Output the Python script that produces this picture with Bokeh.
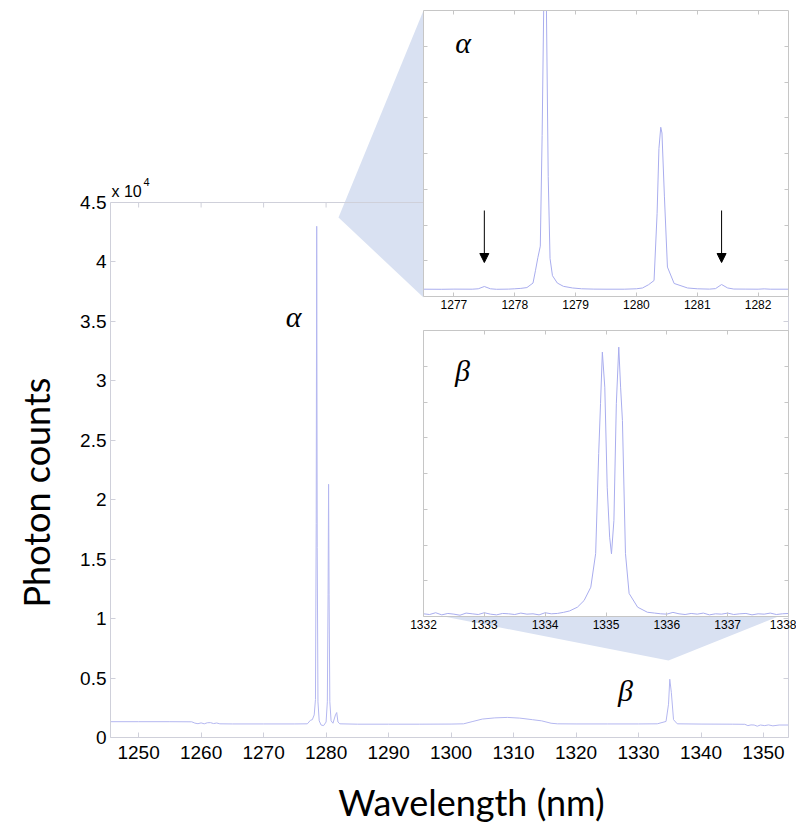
from bokeh.plotting import figure
from bokeh.layouts import column
from bokeh.models import (Range1d, LinearAxis, FixedTicker, CustomJSTickFormatter,
                          Span, Label, Arrow, NormalHead, ColumnDataSource)
from bokeh.embed import file_html
from bokeh.resources import INLINE
import math

# ---------------- data ----------------
# full spectrum (nm, photon counts)
main_wl = [1245.5, 1250.0, 1255.0, 1258.5, 1259.0, 1259.5, 1260.0, 1260.5, 1261.0, 1261.5,
           1262.0, 1262.5, 1263.0, 1265.0, 1270.0, 1275.0, 1277.0, 1277.5, 1277.8, 1278.1,
           1278.3, 1278.42, 1278.5, 1278.58, 1278.7, 1278.9, 1279.2, 1279.6, 1280.0, 1280.2,
           1280.32, 1280.4, 1280.48, 1280.6, 1280.8, 1281.1, 1281.5, 1281.7, 1281.9, 1282.2,
           1285.0, 1290.0, 1295.0, 1300.0, 1302.0, 1303.5, 1305.0, 1307.0, 1309.0, 1311.0,
           1313.0, 1314.5, 1316.0, 1317.0, 1320.0, 1325.0, 1330.0, 1333.0, 1334.4, 1334.8,
           1335.0, 1335.25, 1335.6, 1336.2, 1340.0, 1345.0, 1347.0, 1347.5, 1348.0, 1348.5,
           1349.0, 1349.5, 1350.2, 1350.8, 1351.5, 1352.5, 1354.0]
main_counts = [1330, 1330, 1330, 1320, 1210, 1160, 1230, 1150, 1240, 1250,
               1170, 1220, 1150, 1140, 1140, 1140, 1150, 1450, 1500, 1900,
               3200, 18000, 43000, 16000, 3000, 1400, 1050, 1000, 1300, 3000,
               12000, 21300, 12000, 3000, 1400, 1200, 1900, 2100, 1300, 1150,
               1120, 1120, 1120, 1130, 1150, 1350, 1550, 1650, 1690, 1630,
               1500, 1400, 1200, 1150, 1140, 1140, 1140, 1150, 1350, 2800,
               4900, 3800, 1500, 1150, 1130, 1120, 1110, 1000, 1060, 1050,
               950, 1050, 1000, 1060, 980, 1050, 1050]

# alpha inset (1276.5 - 1282.5 nm)
alpha_wl = [1276.5, 1276.8, 1277.0, 1277.3, 1277.4, 1277.5, 1277.6, 1277.7, 1277.9, 1278.0,
            1278.1, 1278.2, 1278.3, 1278.34, 1278.38, 1278.42, 1278.45, 1278.48, 1278.5, 1278.52,
            1278.55, 1278.58, 1278.62, 1278.7, 1278.8, 1278.95, 1279.1, 1279.3, 1279.5, 1279.8,
            1280.0, 1280.1, 1280.2, 1280.29, 1280.34, 1280.37, 1280.4, 1280.42, 1280.46, 1280.51,
            1280.62, 1280.84, 1281.0, 1281.2, 1281.3, 1281.4, 1281.5, 1281.6, 1281.8, 1282.0,
            1282.1, 1282.2, 1282.5]
alpha_counts = [1250, 1240, 1260, 1250, 1300, 1580, 1300, 1240, 1260, 1300,
                1350, 1450, 2000, 3500, 5100, 6500, 20000, 38000, 43000, 36000,
                15000, 5000, 2900, 2000, 1600, 1400, 1300, 1260, 1250, 1250,
                1300, 1400, 1800, 2310, 10500, 18400, 21000, 20300, 12600, 3950,
                1950, 1400, 1300, 1260, 1320, 1820, 1400, 1270, 1260, 1250,
                1290, 1250, 1250]

# beta inset (1332 - 1338 nm)
beta_wl = [1332.0, 1332.1, 1332.2, 1332.3, 1332.4, 1332.5, 1332.6, 1332.7, 1332.8, 1332.9,
           1333.0, 1333.1, 1333.2, 1333.3, 1333.4, 1333.5, 1333.6, 1333.7, 1333.8, 1333.9,
           1334.0, 1334.1, 1334.2, 1334.3, 1334.4,
           1334.53, 1334.64, 1334.75, 1334.83, 1334.88, 1334.91, 1334.94, 1334.98, 1335.02, 1335.06,
           1335.09, 1335.13, 1335.17, 1335.21, 1335.24, 1335.27, 1335.32, 1335.38, 1335.52, 1335.68,
           1335.8, 1335.9, 1336.0, 1336.1, 1336.2, 1336.3, 1336.4, 1336.5, 1336.6, 1336.7,
           1336.8, 1336.9, 1337.0, 1337.1, 1337.2, 1337.3, 1337.4, 1337.5, 1337.6, 1337.7,
           1337.8, 1337.9, 1338.0]
beta_counts = [1150, 1140, 1165, 1135, 1155, 1145, 1130, 1160, 1150, 1140,
               1165, 1145, 1135, 1155, 1150, 1140, 1160, 1145, 1150, 1135,
               1165, 1150, 1155, 1170, 1190,
               1243, 1337, 1524, 1998, 3405, 4105, 4831, 4338, 2931, 2228,
               1994, 2463, 4105, 4901, 4338, 3870, 2000, 1436, 1243, 1172,
               1160, 1150, 1145, 1170, 1150, 1140, 1155, 1145, 1160, 1135,
               1150, 1145, 1160, 1140, 1150, 1155, 1135, 1150, 1145, 1160,
               1140, 1150, 1155]

main_xticks = [1250, 1260, 1270, 1280, 1290, 1300, 1310, 1320, 1330, 1340, 1350]
main_yticks = [0, 5000, 10000, 15000, 20000, 25000, 30000, 35000, 40000, 45000]
alpha_xticks = [1277, 1278, 1279, 1280, 1281, 1282]
beta_xticks = [1332, 1333, 1334, 1335, 1336, 1337, 1338]
arrow_wl = [1277.5, 1281.4]

# ---------------- layout constants ----------------
W, H = 796, 824
FL, FR, FT, FB = 110, 788, 10, 737          # main frame in pixels
AX_TOP_PX = 202                              # pixel row of 4.5 x 10^4
X0, X1 = 1245.5, 1354.0
YMAX = 45000
PPC = (FB - AX_TOP_PX) / YMAX                # pixels per count
Y1 = (FB - FT) / PPC

def mx(px):
    return X0 + (px - FL) * (X1 - X0) / (FR - FL)

def my(py):
    return (FB - py) / PPC

LINE = "#a9adee"
MLINE = "#b4b7f0"
AXIS = "#cfd0da"
IAXIS = "#c6c6c6"
FILL = "#d9e1f2"
TICKFONT = "Liberation Sans"

# ---------------- main figure ----------------
main = figure(width=W, height=H, x_range=Range1d(X0, X1), y_range=Range1d(0, Y1),
              output_backend="svg", toolbar_location=None,
              min_border_left=FL, min_border_right=W - FR, min_border_top=FT,
              min_border_bottom=H - FB, outline_line_color=None,
              background_fill_color="white", border_fill_color="white")
main.grid.visible = False

def style_axis(ax, color, size, tick_in=5):
    ax.axis_line_color = color
    ax.major_tick_line_color = color
    ax.minor_tick_line_color = None
    ax.major_tick_in = tick_in
    ax.major_tick_out = 0
    ax.major_label_text_font = TICKFONT
    ax.major_label_text_font_size = size
    ax.major_label_text_color = "black"

empty = CustomJSTickFormatter(code="return '';")

xa = main.xaxis[0]
xa.ticker = FixedTicker(ticks=main_xticks)
style_axis(xa, AXIS, "19px")
xa.major_label_standoff = 8

ya = main.yaxis[0]
ya.ticker = FixedTicker(ticks=main_yticks)
ya.formatter = CustomJSTickFormatter(code="return (tick / 10000).toString();")
ya.bounds = (0, YMAX)
style_axis(ya, AXIS, "19px")
ya.major_label_standoff = 4

ra = LinearAxis(ticker=FixedTicker(ticks=main_yticks), formatter=empty, bounds=(0, YMAX))
style_axis(ra, AXIS, "1px")
ra.major_label_standoff = 0
main.add_layout(ra, "right")

main.add_layout(Span(location=YMAX, dimension="width", line_color=AXIS, line_width=1))
main.segment(x0=main_xticks, x1=main_xticks, y0=[YMAX] * len(main_xticks),
             y1=[YMAX - 5 / PPC] * len(main_xticks), line_color=AXIS, line_width=1)

# connector shapes
main.patch(x=[mx(338), mx(423), mx(423)], y=[my(217), Y1, my(297)],
           fill_color=FILL, line_color=None)
main.patch(x=[mx(423), mx(788), mx(668)], y=[my(612), my(612), my(660)],
           fill_color=FILL, line_color=None)

main.line(main_wl, main_counts, line_color=MLINE, line_width=1)

main.add_layout(Label(x=mx(111), y=my(191), text="x 10", text_font=TICKFONT,
                      text_font_size="16px", text_color="black",
                      text_align="left", text_baseline="alphabetic"))
main.add_layout(Label(x=mx(143), y=my(181), text="4", text_font=TICKFONT,
                      text_font_size="11px", text_color="black",
                      text_align="left", text_baseline="alphabetic"))
main.add_layout(Label(x=mx(293), y=my(316), text="α", text_font="Liberation Serif",
                      text_font_style="italic", text_font_size="30px", text_color="black",
                      text_align="center", text_baseline="middle"))
main.add_layout(Label(x=mx(625), y=my(690), text="β", text_font="Liberation Serif",
                      text_font_style="italic", text_font_size="30px", text_color="black",
                      text_align="center", text_baseline="middle"))

# ---------------- insets ----------------
# plots in one column share their left border width, so the insets use the
# same 110 px left border as the main plot
IB = FL
IL = 423 - IB
IW = W - IL
IH = 320

def make_inset(xr, yr, top, xticks):
    f = figure(width=IW, height=IH, x_range=Range1d(*xr), y_range=Range1d(*yr),
               output_backend="svg", toolbar_location=None,
               min_border_left=IB, min_border_right=8, min_border_top=10, min_border_bottom=24,
               border_fill_color=None, background_fill_color="white", outline_line_color=None,
               styles={"position": "absolute", "left": f"{IL}px", "top": f"{top}px"})
    f.grid.visible = False
    yticks = [yr[0] + k * (yr[1] - yr[0]) / 8 for k in range(1, 8)]
    bx = f.xaxis[0]
    bx.ticker = FixedTicker(ticks=xticks)
    style_axis(bx, IAXIS, "12px", 4)
    bx.major_label_standoff = 3
    ly = f.yaxis[0]
    ly.ticker = FixedTicker(ticks=yticks)
    ly.formatter = empty
    style_axis(ly, IAXIS, "1px", 4)
    ly.major_label_standoff = 0
    tx = LinearAxis(ticker=FixedTicker(ticks=xticks), formatter=empty)
    style_axis(tx, IAXIS, "1px", 4)
    tx.major_label_standoff = 0
    f.add_layout(tx, "above")
    ry = LinearAxis(ticker=FixedTicker(ticks=yticks), formatter=empty)
    style_axis(ry, IAXIS, "1px", 4)
    ry.major_label_standoff = 0
    f.add_layout(ry, "right")
    return f

A_Y = (360, 35240)
ins_a = make_inset((1276.5, 1282.5), A_Y, 0, alpha_xticks)
ins_a.line(alpha_wl, alpha_counts, line_color=LINE, line_width=1)
a_ppc = 286 / (A_Y[1] - A_Y[0])
src = ColumnDataSource(dict(x=arrow_wl,
                            y0=[A_Y[0] + (296 - 210) / a_ppc] * 2,
                            y1=[A_Y[0] + (296 - 262) / a_ppc] * 2))
ins_a.add_layout(Arrow(end=NormalHead(size=9, fill_color="black", line_color="black"),
                       x_start="x", y_start="y0", x_end="x", y_end="y1", source=src,
                       line_color="black", line_width=1))
ins_a.add_layout(Label(x=1277.15, y=A_Y[0] + (296 - 42) / a_ppc, text="α",
                       text_font="Liberation Serif", text_font_style="italic",
                       text_font_size="30px", text_color="black",
                       text_align="center", text_baseline="middle"))

B_Y = (1112, 5135)
ins_b = make_inset((1332.0, 1338.0), B_Y, 320, beta_xticks)
ins_b.line(beta_wl, beta_counts, line_color=LINE, line_width=1)
b_ppc = 286 / (B_Y[1] - B_Y[0])
ins_b.add_layout(Label(x=1332.64, y=B_Y[0] + (616 - 370) / b_ppc, text="β",
                       text_font="Liberation Serif", text_font_style="italic",
                       text_font_size="30px", text_color="black",
                       text_align="center", text_baseline="middle"))

# ---------------- transparent overlay for the axis titles ----------------
# its frame starts at the page's left edge (left border pushed off-page);
# the figure keeps the page width, so its frame spans W - FL - 8 pixels
OW = W - FL - 8
OV = figure(width=W, height=H, x_range=Range1d(0, OW), y_range=Range1d(H, 0),
            output_backend="svg", toolbar_location=None,
            x_axis_location=None, y_axis_location=None,
            min_border_left=FL, min_border_right=8, min_border_top=0, min_border_bottom=0,
            border_fill_color=None, background_fill_color=None, outline_line_color=None,
            styles={"position": "absolute", "left": f"{-FL}px", "top": "0px"})
OV.grid.visible = False
OV.add_layout(Label(x=471, y=801, text="Wavelength (nm)", text_font="Lato",
                    text_font_size="36px", text_color="black",
                    text_align="center", text_baseline="middle"))
OV.add_layout(Label(x=35, y=492, text="Photon counts", text_font="Lato",
                    text_font_size="36px", text_color="black", angle=math.pi / 2,
                    text_align="center", text_baseline="middle"))

layout = column(main, ins_a, ins_b, OV)
open("out.html", "w").write(file_html(layout, INLINE))
